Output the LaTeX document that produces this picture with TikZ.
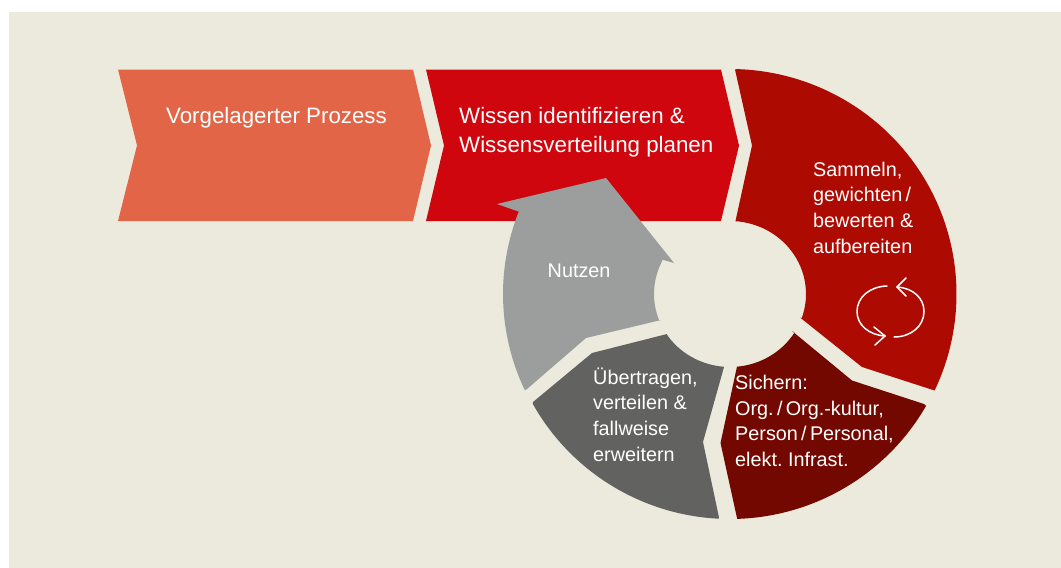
\documentclass[tikz,border=0pt]{standalone}
\usepackage{fontspec}
\setmainfont{Liberation Sans}
\frenchspacing
\definecolor{cream}{HTML}{ECEADD}
\definecolor{orangeR}{HTML}{E16546}
\definecolor{redA}{HTML}{CF060D}
\definecolor{redB}{HTML}{AD0A02}
\definecolor{redC}{HTML}{730800}
\definecolor{grayD}{HTML}{626361}
\definecolor{grayL}{HTML}{9C9E9D}
\tikzset{
  lbl/.style={text=white,anchor=west,align=left,inner sep=0pt,font=\fontsize{19.8}{25.7}\selectfont},
  lblbig/.style={text=white,anchor=west,align=left,inner sep=0pt,font=\fontsize{22.3}{28.5}\selectfont},
  icon/.style={draw=white,line width=1.5pt,line cap=round,line join=round}
}
\begin{document}
\begin{tikzpicture}[x=1pt,y=-1pt]
\useasboundingbox (0,0) rectangle (1061,568);
\fill[white] (0,0) rectangle (1061,568);
\fill[cream] (9,12) rectangle (1061,568);
\coordinate (c) at (730,294);
% chevrons
\fill[orangeR] (118,69.5)--(413,69.5)--(431,145.5)--(413,221)--(118,221)--(137,145.5)--cycle;
\fill[redA] (426,69.5)--(721,69.5)--(739,145.5)--(721,221)--(426,221)--(444,145.5)--cycle;
% sectors
\fill[redB] (735,69.5)--([shift={(c)}]-88.2:226.5 and 225) arc[start angle=-88.2,end angle=25.4,x radius=226.5,y radius=225]
  --(862,367)--(800,317.5)--([shift={(c)}]19.3:76 and 73) arc[start angle=19.3,end angle=-86.2,x radius=76,y radius=73]
  --(735.5,221)--(752,145.5)--cycle;
\fill[redC] (792,331)--(852,380.5)--(924,404)--([shift={(c)}]29.8:226 and 225) arc[start angle=29.8,end angle=88.2,x radius=226,y radius=225]
  --(737,518)--(720.5,443)--(737,366.5)--([shift={(c)}]84.7:76 and 73) arc[start angle=84.7,end angle=31.9,x radius=76,y radius=73]--cycle;
\fill[grayD] (667,334)--(592,353)--(533,402)--([shift={(c)}]150.8:226 and 225) arc[start angle=150.8,end angle=92.8,x radius=226,y radius=225]
  --(719,517.5)--(703,442)--(724,367)--([shift={(c)}]94.5:76 and 73) arc[start angle=94.5,end angle=146.5,x radius=76,y radius=73]--cycle;
\fill[grayL] (497,204)--(606,178)--(674,263)--(660,259)--([shift={(c)}]207.5:76 and 73) arc[start angle=207.5,end angle=158.6,x radius=76,y radius=73]
  --(661,320)--(586,338)--(527,389)--([shift={(c)}]154.7:227 and 225) arc[start angle=154.7,end angle=201.5,x radius=227,y radius=225]--(517,211)--cycle;
% labels
\node[lblbig] (vp) at (166,117.5) {Vorgelagerter Prozess};
\node[lblbig] (wi) at (459,132) {Wissen identifizieren \&\\Wissensverteilung planen};
\node[lbl] (sa) at (813,207.5) {Sammeln,\\gewichten\,/\\bewerten \&\\aufbereiten};
\node[lbl] (si) at (735,421) {Sichern:\\Org.\,/\,Org.-kultur,\\Person\,/\,Personal,\\elekt. Infrast.};
\node[lbl] (ue) at (593,414.5) {Übertragen,\\verteilen \&\\fallweise\\erweitern};
\node[lbl] (nu) at (547.5,271) {Nutzen};
% cycle icon
\draw[icon] (887,286) .. controls (870,286.5) and (857,297) .. (857,311.5) .. controls (857,325) and (869,335) .. (885,336);
\draw[icon] (874,327)--(885,336)--(875,345);
\draw[icon] (894,337) .. controls (911,337) and (924,326) .. (924,311.5) .. controls (924,298) and (913,288) .. (897,287);
\draw[icon] (906,278)--(897,287)--(906,296);
\end{tikzpicture}
\end{document}
